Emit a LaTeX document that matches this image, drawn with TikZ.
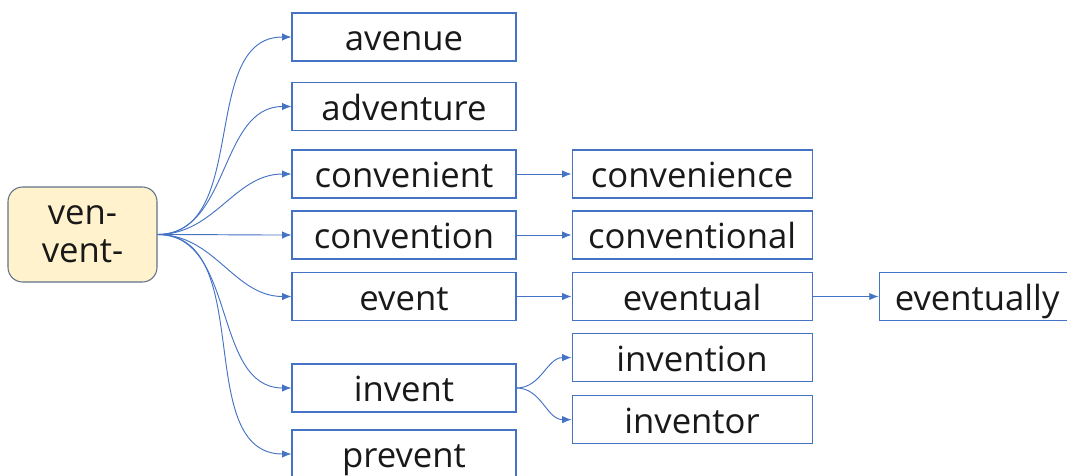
\documentclass[tikz,border=0pt]{standalone}
\usepackage{fontspec}
\setmainfont{Open Sans}
\usetikzlibrary{arrows.meta,positioning}
\definecolor{vtblue}{HTML}{4472C4}
\definecolor{vtfill}{HTML}{FFF2CC}
\definecolor{vtedge}{HTML}{5F7288}
\tikzset{
  vtroot/.style={
    rectangle, rounded corners=11pt, draw=vtedge, fill=vtfill, line width=0.8pt,
    minimum width=111.75pt, minimum height=71.25pt, inner sep=0pt, align=center,
    font=\fontsize{26}{28.5}\selectfont, text=black!90
  },
  vtword/.style={
    rectangle, draw=vtblue, fill=white, line width=0.8pt,
    minimum width=168pt, minimum height=36pt, inner sep=0pt,
    text height=20.5pt, text depth=0pt,
    font=\fontsize{26}{28.5}\selectfont, text=black!90
  },
  vtwordwide/.style={vtword,minimum width=180pt},
  vtlink/.style={-{Latex[length=7pt,width=5.5pt]},draw=vtblue,line width=0.7pt},
  vtcurve/.style={vtlink,out=0,in=180}
}

\begin{document}
\begin{tikzpicture}[x=0.75pt,y=-0.75pt]
  \clip (0,0) rectangle (1067,475);
  % root
  \node[vtroot] (root) at (82.5,234.5) {ven-\\vent-};
  % first level
  \node[vtword] (avenue)     at (404,37)    {avenue};
  \node[vtword] (adventure)  at (404,106.5) {adventure};
  \node[vtword] (convenient) at (404,174)   {convenient};
  \node[vtword] (convention) at (404,235)   {convention};
  \node[vtword] (event)      at (404,296.5) {event};
  \node[vtword] (invent)     at (404,388)   {invent};
  \node[vtword] (prevent)    at (404,454)   {prevent};
  % second level
  \node[vtwordwide,right=41.25pt of convenient] (convenience)  {convenience};
  \node[vtwordwide,right=41.25pt of convention] (conventional) {conventional};
  \node[vtwordwide,right=41.25pt of event]      (eventual)     {eventual};
  \node[vtwordwide,below=9pt of eventual]       (invention)    {invention};
  \node[vtwordwide,below=9.75pt of invention]   (inventor)     {inventor};
  \node[vtword,minimum width=147pt,right=49.5pt of eventual] (eventually) {eventually};
  % links
  \foreach \w in {avenue,adventure,convenient,convention,event,invent,prevent}
    \draw[vtcurve] (root.east) to (\w.west);
  \draw[vtlink] (convenient) -- (convenience);
  \draw[vtlink] (convention) -- (conventional);
  \draw[vtlink] (event) -- (eventual);
  \draw[vtlink] (eventual) -- (eventually);
  \draw[vtcurve] (invent.east) to (invention.west);
  \draw[vtcurve] (invent.east) to (inventor.west);
\end{tikzpicture}
\end{document}
